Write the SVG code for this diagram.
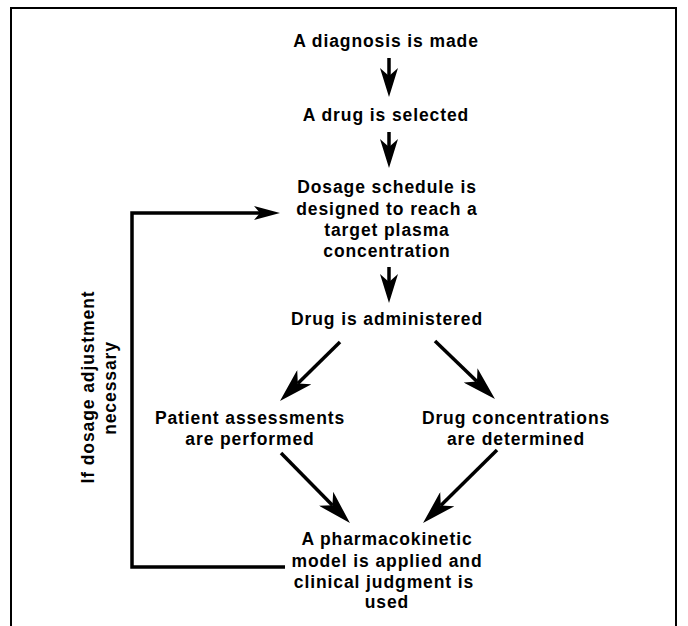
<svg xmlns="http://www.w3.org/2000/svg" width="688" height="626" viewBox="0 0 688 626">
<defs>
<style>
text{font-family:"Liberation Sans",Arial,sans-serif;font-weight:bold;font-size:17.5px;letter-spacing:0.9px;fill:#000;text-anchor:middle}
.c{stroke:#000;stroke-width:3.5;fill:none}
</style>
<marker id="av" viewBox="0 0 29 18" refX="8" refY="9" markerWidth="29" markerHeight="18" markerUnits="userSpaceOnUse" orient="auto">
<path d="M0,0 L29,9 L0,18 L8,9 Z" fill="#000"/>
</marker>
<marker id="ad" viewBox="0 0 34 20" refX="9" refY="10" markerWidth="34" markerHeight="20" markerUnits="userSpaceOnUse" orient="auto">
<path d="M0,0 L34,10 L0,20 L9,10 Z" fill="#000"/>
</marker>
<marker id="af" viewBox="0 0 26 14" refX="6" refY="7" markerWidth="26" markerHeight="14" markerUnits="userSpaceOnUse" orient="auto">
<path d="M0,0 L26,7 L0,14 L6,7 Z" fill="#000"/>
</marker>
</defs>
<rect x="11" y="8" width="665" height="640" fill="none" stroke="#000" stroke-width="2"/>
<g id="n1"><text x="386" y="47">A diagnosis is made</text></g>
<g id="n2"><text x="386" y="121">A drug is selected</text></g>
<g id="n3"><text x="387" y="193">Dosage schedule is</text><text x="387" y="215">designed to reach a</text><text x="387" y="236">target plasma</text><text x="387" y="257">concentration</text></g>
<g id="n4"><text x="387" y="325">Drug is administered</text></g>
<g id="n5"><text x="250" y="424">Patient assessments</text><text x="250" y="445">are performed</text></g>
<g id="n6"><text x="516" y="424">Drug concentrations</text><text x="516" y="445">are determined</text></g>
<g id="n7"><text x="387" y="545">A pharmacokinetic</text><text x="387" y="567">model is applied and</text><text x="384" y="588">clinical judgment is</text><text x="387" y="608">used</text></g>
<g id="lbl"><text transform="translate(94,387) rotate(-90)">If dosage adjustment</text><text transform="translate(116,388) rotate(-90)">necessary</text></g>
<g id="connectors">
<line class="c" x1="389" y1="58" x2="389" y2="76" marker-end="url(#av)"/>
<line class="c" x1="389" y1="132" x2="389" y2="147" marker-end="url(#av)"/>
<line class="c" x1="389" y1="267" x2="389" y2="282" marker-end="url(#av)"/>
<line class="c" x1="340" y1="342" x2="297.8" y2="383.5" marker-end="url(#ad)"/>
<line class="c" x1="435" y1="341" x2="477" y2="381.6" marker-end="url(#ad)"/>
<line class="c" x1="281" y1="453" x2="332.4" y2="505.2" marker-end="url(#ad)"/>
<line class="c" x1="497" y1="450" x2="440.8" y2="505.5" marker-end="url(#ad)"/>
<path class="c" d="M285,567 H132 V213 H260" marker-end="url(#af)"/>
</g>
</svg>
